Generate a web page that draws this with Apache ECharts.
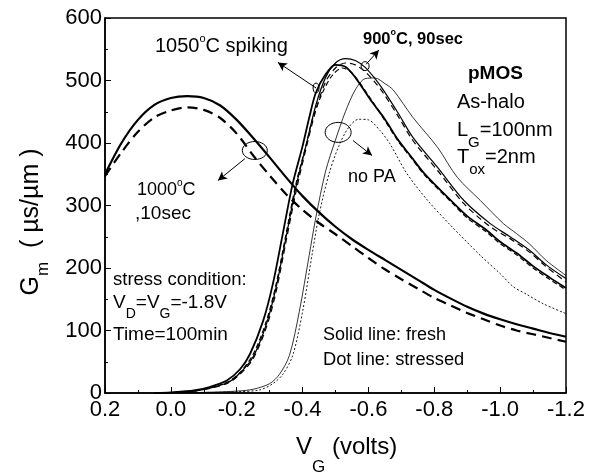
<!DOCTYPE html>
<html>
<head>
<meta charset="utf-8">
<script src="https://cdn.jsdelivr.net/npm/echarts@6/dist/echarts.min.js"></script>
<style>
  html, body { margin: 0; padding: 0; background: #fff; }
  #chart { width: 595px; height: 475px; }
</style>
</head>
<body>
<div id="chart"></div>
<script>
// x = V_G (volts), y = G_m (uS/um)
var xTicks = [0.2, 0.0, -0.2, -0.4, -0.6, -0.8, -1.0, -1.2];
var yTicks = [0, 100, 200, 300, 400, 500, 600];

var fresh1000 = [[0.2,350],[0.15,400],[0.1,437],[0.05,461],[0.0,472],[-0.05,475],[-0.1,472],[-0.15,460],[-0.2,437],[-0.25,408],[-0.3,377],[-0.35,345],[-0.4,315],[-0.45,289],[-0.5,266],[-0.55,246],[-0.6,229],[-0.65,213],[-0.7,197],[-0.75,181],[-0.8,165],[-0.85,151],[-0.9,138],[-0.95,127],[-1.0,118],[-1.05,110],[-1.1,103],[-1.15,96],[-1.2,90]];
var stress1000 = [[0.2,347],[0.15,385],[0.1,418],[0.05,441],[0.0,452],[-0.05,457],[-0.1,453],[-0.15,440],[-0.2,415],[-0.25,380],[-0.3,348],[-0.35,318],[-0.4,293],[-0.45,272],[-0.5,254],[-0.55,235],[-0.6,216],[-0.65,198],[-0.7,182],[-0.75,167],[-0.8,152],[-0.85,140],[-0.9,128],[-0.95,118],[-1.0,108],[-1.05,100],[-1.1,94],[-1.15,88],[-1.2,82]];

var fresh1050 = [[0.05,0],[0.0,1],[-0.07,4],[-0.12,10],[-0.17,20],[-0.21,38],[-0.24,62],[-0.28,115],[-0.31,175],[-0.34,255],[-0.37,335],[-0.4,395],[-0.42,440],[-0.44,480],[-0.47,510],[-0.5,525],[-0.53,522],[-0.56,505],[-0.605,470],[-0.65,438],[-0.69,405],[-0.73,378],[-0.77,351],[-0.86,303],[-0.9,283],[-0.96,260],[-1.0,242],[-1.05,224],[-1.1,203],[-1.15,185],[-1.2,168]];
var stress1050 = [[0.05,0],[-0.07,3],[-0.17,17],[-0.21,33],[-0.25,62],[-0.29,115],[-0.32,175],[-0.35,255],[-0.38,335],[-0.41,395],[-0.43,438],[-0.46,480],[-0.49,508],[-0.52,520],[-0.55,512],[-0.6,476],[-0.65,436],[-0.69,403],[-0.73,376],[-0.77,349],[-0.86,301],[-0.9,280],[-0.96,257],[-1.0,239],[-1.05,221],[-1.1,200],[-1.15,182],[-1.2,165]];

var fresh900 = [[0.05,0],[-0.07,3],[-0.17,16],[-0.21,32],[-0.25,58],[-0.29,110],[-0.32,170],[-0.35,250],[-0.38,330],[-0.41,395],[-0.44,460],[-0.47,505],[-0.5,528],[-0.53,535],[-0.56,532],[-0.59,521],[-0.62,503],[-0.645,485],[-0.69,448],[-0.735,409],[-0.81,361],[-0.89,308],[-0.97,271],[-1.03,250],[-1.09,228],[-1.14,205],[-1.2,183]];
var stress900 = [[0.05,0],[-0.07,3],[-0.17,15],[-0.21,30],[-0.25,55],[-0.29,105],[-0.32,163],[-0.35,243],[-0.38,322],[-0.41,390],[-0.44,452],[-0.47,498],[-0.5,520],[-0.53,528],[-0.56,525],[-0.59,514],[-0.62,497],[-0.645,480],[-0.69,443],[-0.735,404],[-0.81,356],[-0.89,303],[-0.97,266],[-1.03,247],[-1.09,225],[-1.14,202],[-1.2,178]];

var freshNoPA = [[0.0,0],[-0.1,1],[-0.2,3],[-0.25,6],[-0.3,15],[-0.33,30],[-0.36,60],[-0.39,130],[-0.42,220],[-0.44,280],[-0.47,355],[-0.5,405],[-0.53,450],[-0.56,485],[-0.59,503],[-0.62,504],[-0.65,495],[-0.675,485],[-0.735,441],[-0.81,393],[-0.87,345],[-0.94,308],[-1.01,271],[-1.05,255],[-1.09,238],[-1.14,212],[-1.2,188]];
var stressNoPA = [[-0.05,0],[-0.2,2],[-0.27,5],[-0.31,15],[-0.34,30],[-0.37,60],[-0.4,130],[-0.43,225],[-0.45,285],[-0.48,350],[-0.51,395],[-0.54,425],[-0.57,438],[-0.6,437],[-0.635,420],[-0.665,399],[-0.717,351],[-0.78,308],[-0.85,268],[-0.94,220],[-1.0,191],[-1.04,170],[-1.08,158],[-1.13,143],[-1.2,127]];

// annotation arrows [from, to] and ellipses [x, y, rx, ry] in data coords
var arrows = [
    [[-0.441, 488], [-0.325, 529]],
    [[-0.593, 526], [-0.632, 549]],
    [[-0.553, 404], [-0.611, 380]],
    [[-0.225, 375], [-0.143, 340]]
];
var ellipses = [
    [-0.441, 488, 3, 5],
    [-0.59, 523, 4, 4.5],
    [-0.508, 417, 13, 10],
    [-0.255, 388, 12.5, 9]
];

var FONT = 'Liberation Sans';

function line(name, data, width, type) {
    return {
        name: name,
        type: 'line',
        data: data,
        smooth: 0.3,
        symbol: 'none',
        silent: true,
        lineStyle: { color: '#000', width: width, type: type }
    };
}

var chart = echarts.init(document.getElementById('chart'), null, { renderer: 'canvas' });

var series = [
    line('1000 fresh', fresh1000, 2.2, 'solid'),
    line('1000 stressed', stress1000, 2.2, [10, 6]),
    line('1050 fresh', fresh1050, 1.8, 'solid'),
    line('1050 stressed', stress1050, 1.2, [5, 3]),
    line('900 fresh', fresh900, 1.2, 'solid'),
    line('900 stressed', stress900, 1.2, [6, 4]),
    line('noPA fresh', freshNoPA, 0.8, 'solid'),
    line('noPA stressed', stressNoPA, 0.9, [2, 2])
];

series.push({
    type: 'line',
    data: [],
    silent: true,
    markLine: {
        silent: true,
        symbol: ['none', 'arrow'],
        symbolSize: [7, 9],
        label: { show: false },
        lineStyle: { color: '#000', width: 1, type: 'solid' },
        data: arrows.map(function (a) {
            return [{ coord: a[0] }, { coord: a[1] }];
        })
    }
});

// text label: x = left edge, y = centre of the normal glyphs
// opt: {bold, sub (size), off (subscript drop), rot}
function label(x, y, text, size, opt) {
    opt = opt || {};
    var w = opt.bold ? 'bold' : 'normal';
    var ln = size + 6;
    var subSize = opt.sub || Math.round(size * 0.75);
    var ls = opt.off ? Math.round(2 * (opt.off + 0.57 * subSize)) : 0;
    var rich = {
        n: { fontSize: size, fontFamily: FONT, fill: '#000', fontWeight: w, lineHeight: ln, verticalAlign: 'middle' },
        s: { fontSize: subSize, fontFamily: FONT, fill: '#000', fontWeight: w, lineHeight: ls || ln, verticalAlign: 'bottom' },
        o: { fontSize: Math.round(size * 0.55), fontFamily: FONT, fill: '#000', fontWeight: w, lineHeight: Math.round(size * 0.55), verticalAlign: 'top' }
    };
    return {
        type: 'text',
        x: x,
        y: y,
        rotation: opt.rot || 0,
        silent: true,
        style: { text: text, rich: rich, fill: '#000', align: opt.align || 'left', verticalAlign: 'middle' }
    };
}

chart.setOption({
    animation: false,
    backgroundColor: '#fff',
    grid: { left: 105, right: 29, top: 18, bottom: 82, show: true, borderColor: '#000', borderWidth: 1.5 },
    xAxis: {
        type: 'value',
        inverse: true,
        min: -1.2,
        max: 0.2,
        interval: 0.2,
        axisLine: { onZero: false, lineStyle: { color: '#000', width: 1.5 } },
        axisTick: { inside: true, length: 6, lineStyle: { color: '#000', width: 1 } },
        minorTick: { show: true, splitNumber: 2, length: 3, lineStyle: { color: '#000' } },
        splitLine: { show: false },
        axisLabel: {
            color: '#000', fontSize: 22, fontFamily: FONT, margin: 6,
            formatter: function (v) { return Math.abs(v) < 1e-9 ? '0.0' : v.toFixed(1); }
        }
    },
    yAxis: {
        type: 'value',
        min: 0,
        max: 600,
        interval: 100,
        axisLine: { show: true, onZero: false, lineStyle: { color: '#000', width: 1.5 } },
        axisTick: { show: true, inside: true, length: 6, lineStyle: { color: '#000', width: 1 } },
        minorTick: { show: true, splitNumber: 2, length: 3, lineStyle: { color: '#000' } },
        splitLine: { show: false },
        axisLabel: { color: '#000', fontSize: 22, fontFamily: FONT, margin: 3 }
    },
    series: series
});

var graphics = [
    label(155, 46, '{n|1050}{o|o}{n|C spiking}', 20),
    label(363, 39, '{n|900}{o|o}{n|C, 90sec}', 16.5, { bold: true }),
    label(468, 74, '{n|pMOS}', 19, { bold: true }),
    label(457, 102, '{n|As-halo}', 20),
    label(457, 130, '{n|L}{s|G}{n|=100nm}', 20, { sub: 15, off: 12 }),
    label(457, 157, '{n|T}{s|ox}{n|=2nm}', 20, { sub: 15, off: 12 }),
    label(348, 177, '{n|no PA}', 18),
    label(137, 190, '{n|1000}{o|o}{n|C}', 18),
    label(135, 214, '{n|,10sec}', 19),
    label(113, 280, '{n|stress condition:}', 18.5),
    label(113, 303, '{n|V}{s|D}{n|=V}{s|G}{n|=-1.8V}', 19, { sub: 14, off: 10 }),
    label(113, 335, '{n|Time=100min}', 19),
    label(323, 335, '{n|Solid line: fresh}', 18),
    label(323, 360, '{n|Dot line: stressed}', 18.3),
    label(296, 447, '{n|V}{s|G}{n| (volts)}', 24, { sub: 17, off: 19 }),
    label(31, 222, '{n|G}{s|m}{n|  ( \u00b5s/\u00b5m )}', 25, { sub: 17, off: 11, rot: Math.PI / 2, align: 'center' })
];

ellipses.forEach(function (e) {
    var p = chart.convertToPixel({ gridIndex: 0 }, [e[0], e[1]]);
    graphics.push({
        type: 'ellipse',
        silent: true,
        shape: { cx: p[0], cy: p[1], rx: e[2], ry: e[3] },
        style: { fill: 'none', stroke: '#000', lineWidth: 1 }
    });
});

chart.setOption({ graphic: graphics });
</script>
</body>
</html>
